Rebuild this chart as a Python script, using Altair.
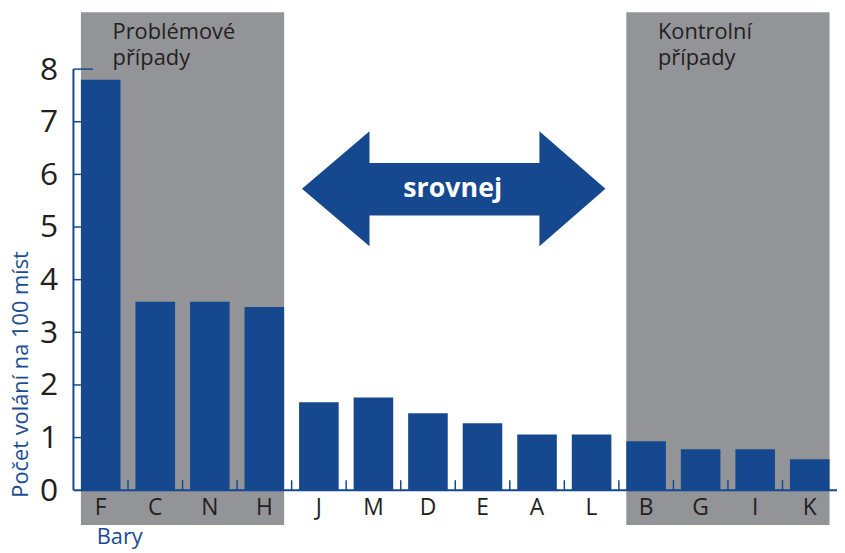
import altair as alt
import pandas as pd

# ---- data ----
cats = ["F", "C", "N", "H", "J", "M", "D", "E", "A", "L", "B", "G", "I", "K"]
vals = [7.8, 3.58, 3.58, 3.48, 1.67, 1.76, 1.46, 1.27, 1.06, 1.06, 0.93, 0.78, 0.78, 0.59]

group_start = ["F", "B"]
group_end = ["H", "K"]
group_label = ["Problémové\npřípady", "Kontrolní\npřípady"]

y_ticks = [0, 1, 2, 3, 4, 5, 6, 7, 8]
y_title = "Počet volání na 100 míst"
x_title = "Bary"
arrow_text = "srovnej"

BLUE = "#16488f"
GREY = "#939498"
DARK = "#231f20"
TBLUE = "#1b4d94"
FONT = "Open Sans"

YMAX = 9.08
GREY_BOTTOM = -0.66
HALF_GAP = 7.5  # px from band start back to the gap centre

bars_df = pd.DataFrame({"cat": cats, "v": vals})
groups_df = pd.DataFrame({"start": group_start, "end": group_end,
                          "label": group_label, "top": YMAX, "bottom": GREY_BOTTOM})
yt_df = pd.DataFrame({"t": y_ticks[1:-1]})
xt_df = pd.DataFrame({"cat": cats[1:]})

xscale = alt.Scale(domain=cats, paddingInner=0.274, paddingOuter=0.137)
yscale = alt.Scale(domain=[0, YMAX], nice=False)

xaxis = alt.Axis(title=x_title, domain=False, ticks=False, tickSize=0,
                 labelAngle=0, labelFont=FONT, labelFontSize=23,
                 labelColor=DARK, labelPadding=6, zindex=1,
                 titleFont=FONT, titleFontSize=22, titleFontWeight="normal",
                 titleColor=TBLUE, titleX=23, titleY=54,
                 titleAlign="left", titleBaseline="alphabetic")
yaxis = alt.Axis(values=y_ticks, format="d", title=y_title, domain=False, ticks=False,
                 tickSize=0, grid=False, labelFont=FONT, labelFontSize=32,
                 labelColor=DARK, labelPadding=16,
                 titleFont=FONT, titleFontSize=22, titleFontWeight="normal",
                 titleColor=TBLUE, titleAngle=270, titleAlign="left",
                 titleBaseline="alphabetic", titleX=-46, titleY=489)

grey = alt.Chart(groups_df).mark_rect(color=GREY, clip=False).encode(
    x=alt.X("start:N", scale=xscale, bandPosition=0, axis=xaxis),
    x2=alt.X2("end", bandPosition=1),
    y=alt.Y("top:Q", scale=yscale, axis=yaxis),
    y2="bottom",
)

bars = alt.Chart(bars_df).mark_bar(color=BLUE).encode(
    x=alt.X("cat:N", scale=xscale, sort=cats, axis=xaxis),
    y=alt.Y("v:Q", scale=yscale, axis=yaxis),
)

one = pd.DataFrame({"a": [0]})

# axis lines
xaxis_line = alt.Chart(one).mark_rule(color=BLUE, strokeWidth=2).encode(
    x=alt.value(0),
    x2=alt.value("width"),
    y=alt.YDatum(0),
)
yaxis_line = alt.Chart(one).mark_rule(color=BLUE, strokeWidth=2).encode(
    x=alt.value(0),
    y=alt.YDatum(0),
    y2=alt.Y2Datum(8),
)
# inward y ticks
ytick_rules = alt.Chart(yt_df).mark_rule(color=BLUE, strokeWidth=1.5, xOffset=-HALF_GAP).encode(
    x=alt.XDatum(cats[0], type="nominal", bandPosition=0),
    x2=alt.X2Datum(cats[0], bandPosition=0),
    y=alt.Y("t:Q", axis=yaxis),
)
ytick_top = alt.Chart(pd.DataFrame({"t": [8]})).mark_rule(color=BLUE, strokeWidth=1.5, xOffset=-HALF_GAP).encode(
    x=alt.XDatum(cats[0], type="nominal", bandPosition=0),
    x2=alt.X2Datum(cats[0], bandPosition=0.3),
    y=alt.Y("t:Q", axis=yaxis),
)
# inward x ticks between bars
xtick_rules = alt.Chart(xt_df).mark_rule(color=BLUE, strokeWidth=1.5, xOffset=-HALF_GAP).encode(
    x=alt.X("cat:N", bandPosition=0, axis=xaxis),
    y=alt.YDatum(0),
    y2=alt.Y2Datum(0.19),
)

# double arrow
arrow_path = ("M -1 0 L -0.555 -0.379 L -0.555 -0.17 L 0.565 -0.17 L 0.565 -0.379 "
              "L 1 0 L 0.565 0.379 L 0.565 0.176 L -0.555 0.176 L -0.555 0.379 Z")
arrow = alt.Chart(one).mark_point(
    shape=arrow_path, size=306 * 306, filled=True, fill=BLUE, opacity=1, strokeWidth=0,
    xOffset=6
).encode(
    x=alt.XDatum("D", type="nominal", bandPosition=1),
    y=alt.YDatum(5.725),
)
arrow_label = alt.Chart(pd.DataFrame({"t": [arrow_text]})).mark_text(
    font=FONT, fontSize=27, fontWeight="bold", color="white",
    align="center", baseline="alphabetic", dx=5
).encode(
    x=alt.XDatum("D", type="nominal", bandPosition=1),
    y=alt.YDatum(5.575),
    text="t:N",
)

group_text = alt.Chart(groups_df).mark_text(
    font=FONT, fontSize=22, color=DARK, align="left", baseline="alphabetic",
    lineBreak="\n", lineHeight=27
).encode(
    x=alt.X("start:N", bandPosition=0.8, axis=xaxis),
    y=alt.YDatum(8.58),
    text="label:N",
)

chart = alt.layer(
    grey, bars, xaxis_line, yaxis_line, ytick_rules, ytick_top, xtick_rules,
    arrow, arrow_label, group_text
).properties(
    width=770, height=482,
    padding={"left": 66, "top": 2, "right": 0, "bottom": 60},
    autosize="none",
).configure_view(stroke=None)

chart.save("out.html", embed_options={"renderer": "svg", "actions": False})
